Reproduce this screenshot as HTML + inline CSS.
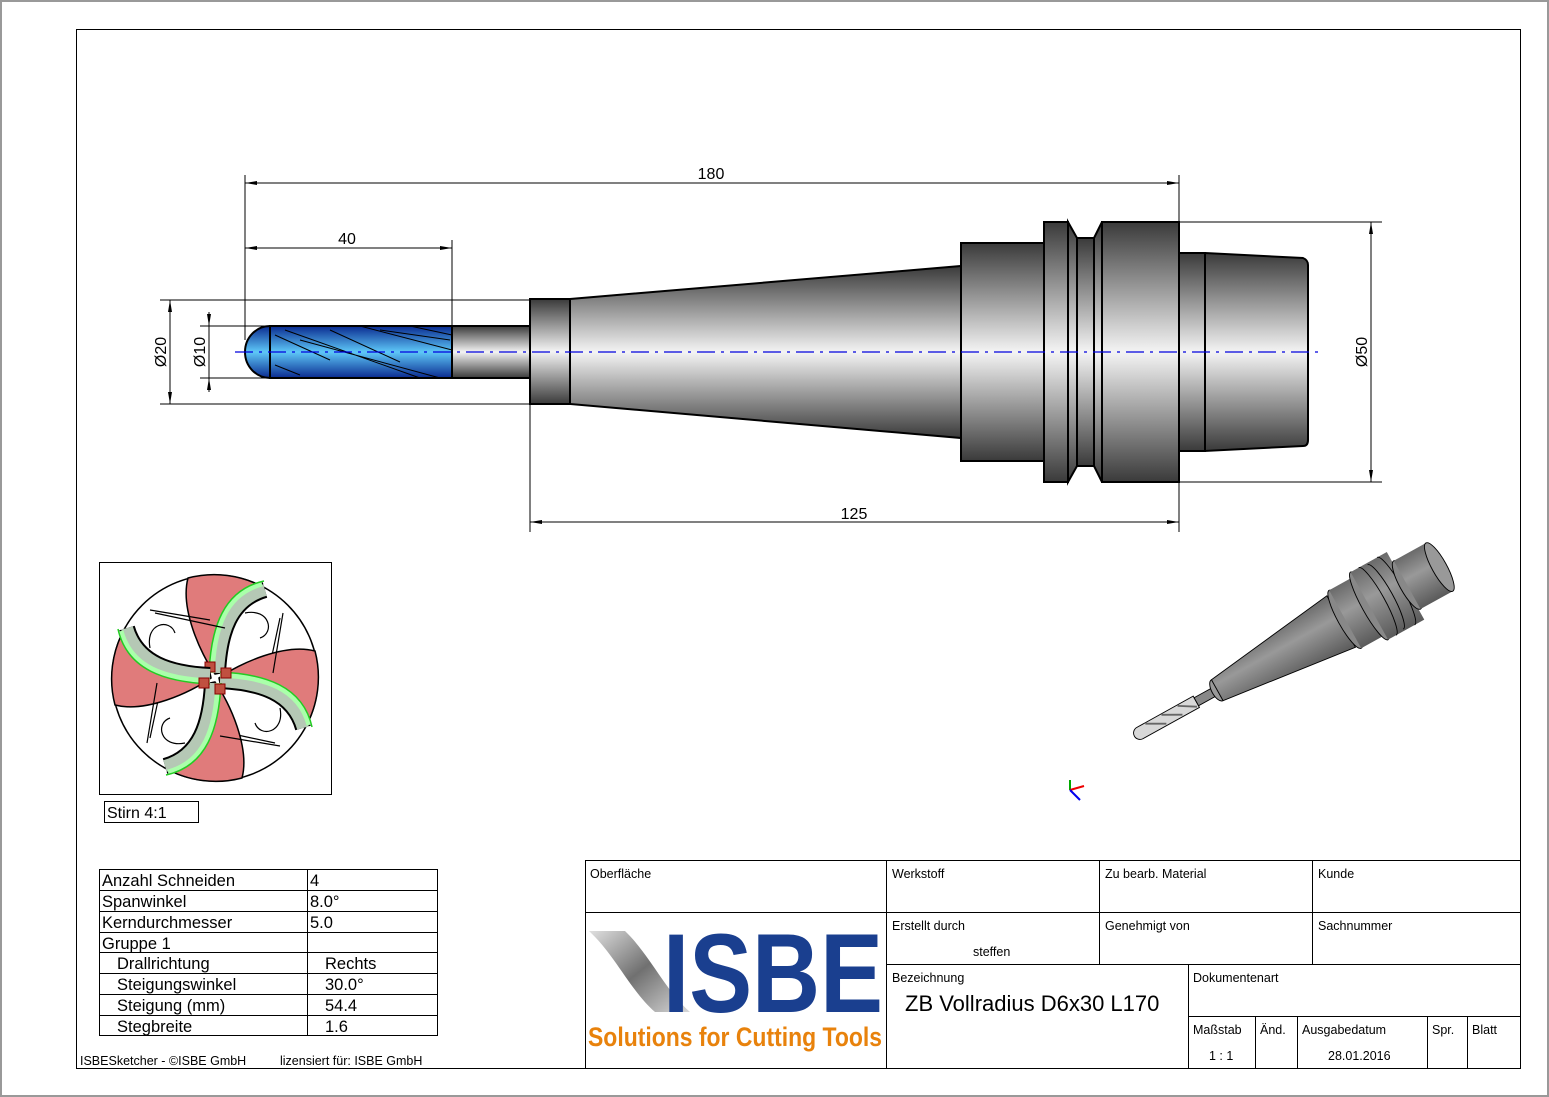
<!DOCTYPE html>
<html><head><meta charset="utf-8"><style>
html,body{margin:0;padding:0;background:#fff;}
svg{display:block;font-family:"Liberation Sans",Arial,sans-serif;}
</style></head><body>
<svg width="1549" height="1097" viewBox="0 0 1549 1097" xmlns="http://www.w3.org/2000/svg">
<defs>
<linearGradient id="met" x1="0" y1="0" x2="0" y2="1">
<stop offset="0" stop-color="#3a3a3a"/><stop offset="0.5" stop-color="#f4f4f4"/><stop offset="1" stop-color="#3a3a3a"/></linearGradient>
<linearGradient id="blu" x1="0" y1="0" x2="0" y2="1">
<stop offset="0" stop-color="#0a2a90"/><stop offset="0.5" stop-color="#5ec8f8"/><stop offset="1" stop-color="#0a2a90"/></linearGradient>
<linearGradient id="sw" x1="0" y1="0" x2="1" y2="1">
<stop offset="0" stop-color="#e0e0e0"/><stop offset="0.5" stop-color="#707070"/><stop offset="1" stop-color="#d8d8d8"/></linearGradient>
<linearGradient id="g3" x1="0" y1="0" x2="0" y2="1">
<stop offset="0" stop-color="#6a6a6a"/><stop offset="0.4" stop-color="#999"/><stop offset="1" stop-color="#5a5a5a"/></linearGradient>
</defs>
<rect x="0.5" y="0.5" width="1548" height="1096" fill="#fff" stroke="#999" stroke-width="3"/>
<rect x="76.5" y="29.5" width="1444" height="1039" fill="none" stroke="#000"/>

<g stroke="#000" stroke-width="2">
<rect x="452" y="326" width="78" height="52" fill="url(#met)"/>
<rect x="530" y="299" width="40" height="105" fill="url(#met)"/>
<polygon points="570,299 961,266 961,438 570,404" fill="url(#met)"/>
<rect x="961" y="243" width="83" height="218" fill="url(#met)"/>
<rect x="1044" y="222" width="24" height="260" fill="url(#met)"/>
<polygon points="1068,222 1077,238 1077,466 1068,482" fill="url(#met)"/>
<rect x="1077" y="238" width="17" height="228" fill="url(#met)"/>
<polygon points="1094,238 1102,222 1102,482 1094,466" fill="url(#met)"/>
<rect x="1102" y="222" width="77" height="260" fill="url(#met)"/>
<rect x="1179" y="253" width="26" height="198" fill="url(#met)"/>
<path d="M1205,253 L1303,258 Q1308,260 1308,265 L1308,440 Q1308,446 1303,446 L1205,451 Z" fill="url(#met)"/>
<rect x="270" y="326" width="182" height="52" fill="url(#blu)"/>
<path d="M270,326 A25,26 0 0 0 270,378 Z" fill="url(#blu)"/>
</g>
<g stroke="#000" stroke-width="1" fill="none">
<path d="M275,335 L330,360 M285,330 L420,378 M330,330 L400,362 M300,340 L440,378 M360,326 L452,350 M380,330 L450,340 M275,365 L300,375 M410,326 L452,335"/>
</g>
<line x1="235" y1="352" x2="1320" y2="352" stroke="#0000dd" stroke-width="1.2" stroke-dasharray="18,6,3,6"/>

<g stroke="#000" stroke-width="1" fill="none">
<line x1="245" y1="175" x2="245" y2="340"/>
<line x1="452" y1="240" x2="452" y2="326"/>
<line x1="1179" y1="175" x2="1179" y2="222"/>
<line x1="245" y1="183" x2="1179" y2="183"/>
<line x1="245" y1="248" x2="452" y2="248"/>
<line x1="530" y1="404" x2="530" y2="532"/>
<line x1="1179" y1="482" x2="1179" y2="532"/>
<line x1="530" y1="522" x2="1179" y2="522"/>
<line x1="160" y1="300" x2="530" y2="300"/>
<line x1="160" y1="404" x2="530" y2="404"/>
<line x1="170" y1="300" x2="170" y2="404"/>
<line x1="200" y1="326" x2="270" y2="326"/>
<line x1="200" y1="378" x2="270" y2="378"/>
<line x1="209" y1="312" x2="209" y2="392"/>
<line x1="1179" y1="222" x2="1382" y2="222"/>
<line x1="1179" y1="482" x2="1382" y2="482"/>
<line x1="1371" y1="222" x2="1371" y2="482"/>
</g>
<g fill="#000">
<polygon points="245,183 257,181 257,185"/><polygon points="1179,183 1167,181 1167,185"/>
<polygon points="245,248 257,246 257,250"/><polygon points="452,248 440,246 440,250"/>
<polygon points="530,522 542,520 542,524"/><polygon points="1179,522 1167,520 1167,524"/>
<polygon points="170,300 168,312 172,312"/><polygon points="170,404 168,392 172,392"/>
<polygon points="209,326 207,314 211,314"/><polygon points="209,378 207,390 211,390"/>
<polygon points="1371,222 1369,234 1373,234"/><polygon points="1371,482 1369,470 1373,470"/>
</g>
<g font-size="16" fill="#000">
<text x="711" y="179" text-anchor="middle">180</text>
<text x="347" y="244" text-anchor="middle">40</text>
<text x="854" y="519" text-anchor="middle">125</text>
<text transform="translate(166,352) rotate(-90)" text-anchor="middle">Ø20</text>
<text transform="translate(205,352) rotate(-90)" text-anchor="middle">Ø10</text>
<text transform="translate(1367,352) rotate(-90)" text-anchor="middle">Ø50</text>
</g>

<rect x="99.5" y="562.5" width="232" height="232" fill="#fff" stroke="#000"/>
<g transform="translate(215,678)">
<circle r="103" fill="#fff" stroke="#000" stroke-width="1.5"/>
<g id="pet">
<path d="M0,-4 C-15,-25 -35,-70 -27,-100 A103,103 0 0 1 50,-90 C20,-80 8,-50 5,-5 Z" fill="#e07b7b" stroke="#000" stroke-width="1.5"/>
<path d="M50,-88 C15,-78 5,-45 3,-5" fill="none" stroke="#000" stroke-width="16"/>
<path d="M50,-88 C15,-78 5,-45 3,-5" fill="none" stroke="#b5c8b5" stroke-width="12"/>
<path d="M47,-94 C10,-84 -1,-50 -3,-5" fill="none" stroke="#aaffaa" stroke-width="5"/>
<path d="M49,-97 C8,-88 -4,-50 -6,-5" fill="none" stroke="#22cc22" stroke-width="1.5"/>
<path d="M30,-65 C55,-70 60,-45 45,-40 M-65,-68 L-5,-58 M65,-60 L50,10" fill="none" stroke="#000" stroke-width="1.2"/>
<rect x="-10" y="-16" width="10" height="10" fill="#c05040" stroke="#800" stroke-width="1"/>
</g>
<use href="#pet" transform="rotate(90)"/>
<use href="#pet" transform="rotate(180)"/>
<use href="#pet" transform="rotate(270)"/>
</g>
<rect x="104.5" y="801.5" width="94" height="21" fill="#fff" stroke="#000"/>
<text x="107" y="818" font-size="16">Stirn 4:1</text>

<g transform="translate(1140,733) rotate(-29) scale(0.92)" stroke="#000" stroke-width="1">
<path d="M0,-7 L70,-7 L70,7 L0,7 A7,7 0 0 1 0,-7 Z" fill="#d8d8d8"/>
<path d="M10,-6 L30,5 M30,-6 L50,5 M50,-6 L68,5" stroke="#666" stroke-width="2"/>
<rect x="70" y="-5" width="22" height="10" fill="#888"/>
<ellipse cx="96" cy="0" rx="6" ry="13" fill="#999"/>
<polygon points="96,-13 250,-32 250,32 96,13" fill="url(#g3)"/>
<ellipse cx="255" cy="0" rx="8" ry="36" fill="#888"/>
<rect x="255" y="-36" width="30" height="72" fill="url(#g3)" stroke="none"/>
<ellipse cx="285" cy="0" rx="8" ry="42" fill="#888"/>
<rect x="285" y="-42" width="45" height="84" fill="url(#g3)" stroke="none"/>
<path d="M295,-42 A8,42 0 0 1 295,42 M305,-40 A8,40 0 0 1 305,40 M318,-42 A8,42 0 0 1 318,42" fill="none"/>
<ellipse cx="332" cy="0" rx="8" ry="30" fill="#888"/>
<rect x="332" y="-30" width="40" height="60" fill="url(#g3)" stroke="none"/>
<ellipse cx="372" cy="0" rx="8" ry="30" fill="#999"/>
</g>
<g stroke-width="2"><line x1="1070" y1="790" x2="1070" y2="780" stroke="#0a0"/><line x1="1070" y1="790" x2="1084" y2="786" stroke="#e00"/><line x1="1070" y1="790" x2="1080" y2="800" stroke="#00e"/></g>

<g stroke="#000" stroke-width="1" fill="none">
<rect x="99.5" y="869.5" width="338" height="166"/>
<line x1="307.5" y1="869" x2="307.5" y2="1036"/>
<line x1="99" y1="890.5" x2="438" y2="890.5"/>
<line x1="99" y1="911.5" x2="438" y2="911.5"/>
<line x1="99" y1="932.5" x2="438" y2="932.5"/>
<line x1="99" y1="952.5" x2="438" y2="952.5"/>
<line x1="99" y1="973.5" x2="438" y2="973.5"/>
<line x1="99" y1="994.5" x2="438" y2="994.5"/>
<line x1="99" y1="1015.5" x2="438" y2="1015.5"/>
</g>
<g font-size="16.5" fill="#000">
<text x="102" y="886">Anzahl Schneiden</text><text x="310" y="886">4</text>
<text x="102" y="907">Spanwinkel</text><text x="310" y="907">8.0°</text>
<text x="102" y="928">Kerndurchmesser</text><text x="310" y="928">5.0</text>
<text x="102" y="949">Gruppe 1</text>
<text x="117" y="969">Drallrichtung</text><text x="325" y="969">Rechts</text>
<text x="117" y="990">Steigungswinkel</text><text x="325" y="990">30.0°</text>
<text x="117" y="1011">Steigung (mm)</text><text x="325" y="1011">54.4</text>
<text x="117" y="1032">Stegbreite</text><text x="325" y="1032">1.6</text>
</g>
<text x="80" y="1065" font-size="12.5">ISBESketcher - ©ISBE GmbH</text>
<text x="280" y="1065" font-size="12.5">lizensiert für: ISBE GmbH</text>

<g stroke="#000" stroke-width="1" fill="none">
<rect x="585.5" y="860.5" width="935" height="208"/>
<line x1="585" y1="912.5" x2="1520" y2="912.5"/>
<line x1="886.5" y1="860" x2="886.5" y2="1068"/>
<line x1="1099.5" y1="860" x2="1099.5" y2="964"/>
<line x1="1312.5" y1="860" x2="1312.5" y2="964"/>
<line x1="886" y1="964.5" x2="1520" y2="964.5"/>
<line x1="1188.5" y1="964" x2="1188.5" y2="1068"/>
<line x1="1188" y1="1016.5" x2="1520" y2="1016.5"/>
<line x1="1255.5" y1="1016" x2="1255.5" y2="1068"/>
<line x1="1297.5" y1="1016" x2="1297.5" y2="1068"/>
<line x1="1427.5" y1="1016" x2="1427.5" y2="1068"/>
<line x1="1467.5" y1="1016" x2="1467.5" y2="1068"/>
</g>
<g font-size="12.5" fill="#000">
<text x="590" y="878">Oberfläche</text>
<text x="892" y="878">Werkstoff</text>
<text x="1105" y="878">Zu bearb. Material</text>
<text x="1318" y="878">Kunde</text>
<text x="892" y="930">Erstellt durch</text>
<text x="973" y="956">steffen</text>
<text x="1105" y="930">Genehmigt von</text>
<text x="1318" y="930">Sachnummer</text>
<text x="892" y="982">Bezeichnung</text>
<text x="1193" y="982">Dokumentenart</text>
<text x="1193" y="1034">Maßstab</text>
<text x="1209" y="1060">1 : 1</text>
<text x="1260" y="1034">Änd.</text>
<text x="1302" y="1034">Ausgabedatum</text>
<text x="1328" y="1060">28.01.2016</text>
<text x="1432" y="1034">Spr.</text>
<text x="1472" y="1034">Blatt</text>
</g>
<text x="905" y="1011" font-size="22">ZB Vollradius D6x30 L170</text>

<path d="M589,931 L625,931 C650,955 665,990 690,1012 L655,1012 C630,990 615,955 589,931 Z" fill="url(#sw)"/>
<text x="663" y="1012" font-size="112" font-weight="bold" fill="#1a3f8f" textLength="220" lengthAdjust="spacingAndGlyphs">ISBE</text>
<text x="588" y="1046" font-size="27" font-weight="bold" fill="#e8820c" textLength="294" lengthAdjust="spacingAndGlyphs">Solutions for Cutting Tools</text>
</svg>
</body></html>
